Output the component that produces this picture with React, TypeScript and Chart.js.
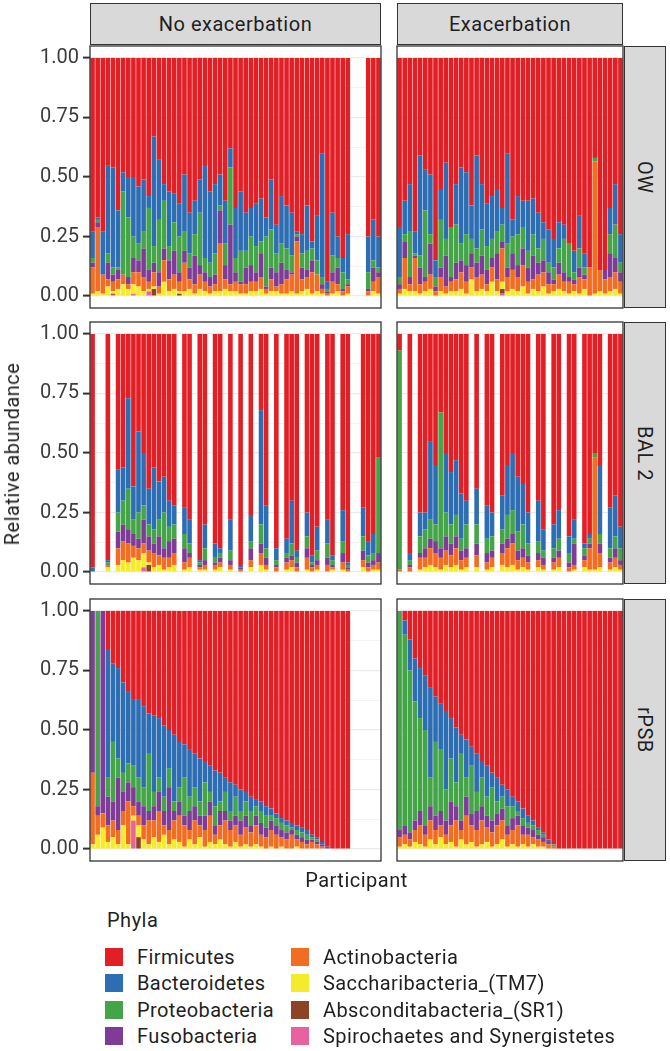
import React, { useEffect, useRef } from "react";
import { Chart, registerables } from "chart.js";
Chart.register(...registerables);

// Stacking order, bottom to top
const PHYLA = [
  "Spirochaetes and Synergistetes",
  "Absconditabacteria_(SR1)",
  "Saccharibacteria_(TM7)",
  "Actinobacteria",
  "Fusobacteria",
  "Proteobacteria",
  "Bacteroidetes",
  "Firmicutes",
];
const PHYLA_COLORS = ["#e7629e", "#8d4425", "#f4eb2a", "#f26c21", "#7e3c96", "#44a548", "#2d6db3", "#e31f26"];
const LEGEND_COL1 = ["Firmicutes", "Bacteroidetes", "Proteobacteria", "Fusobacteria"];
const LEGEND_COL2 = ["Actinobacteria", "Saccharibacteria_(TM7)", "Absconditabacteria_(SR1)", "Spirochaetes and Synergistetes"];
const COLUMN_LABELS = ["No exacerbation", "Exacerbation"];
const ROW_LABELS = ["OW", "BAL 2", "rPSB"];
const Y_TICKS = [0, 0.25, 0.5, 0.75, 1];
const Y_TICK_LABELS = ["0.00", "0.25", "0.50", "0.75", "1.00"];
const Y_GRID = [0, 0.125, 0.25, 0.375, 0.5, 0.625, 0.75, 0.875, 1];

// Each participant: cumulative tops of [Spiro, Abscond, Sacchari, Actino, Fuso, Proteo, Bactero]; Firmicutes fills to 1. null = no sample.
type Row = number[] | null;
const OW_NOEX: Row[] = [
  [0,0,0.01,0.12,0.14,0.16,0.27],[0,0,0.02,0.29,0.31,0.32,0.33],[0,0,0.01,0.09,0.09,0.09,0.27],[0,0,0.04,0.07,0.14,0.18,0.55],
  [0.005,0.01,0.02,0.06,0.09,0.12,0.54],[0,0,0.03,0.07,0.11,0.12,0.36],[0,0,0.05,0.09,0.09,0.44,0.52],[0,0,0.03,0.05,0.08,0.33,0.50],
  [0.01,0.01,0.05,0.10,0.16,0.25,0.50],[0,0,0.04,0.10,0.15,0.22,0.46],[0,0,0.02,0.08,0.20,0.27,0.49],[0.02,0.02,0.03,0.06,0.11,0.37,0.42],
  [0,0.03,0.04,0.10,0.14,0.21,0.67],[0,0,0.01,0.04,0.10,0.32,0.575],[0,0,0.06,0.15,0.20,0.40,0.47],[0,0,0.02,0.07,0.15,0.21,0.44],
  [0,0,0.03,0.09,0.19,0.31,0.43],[0,0.01,0.02,0.06,0.10,0.25,0.39],[0,0,0.02,0.14,0.19,0.27,0.51],[0,0,0.03,0.07,0.12,0.18,0.35],
  [0,0,0.01,0.05,0.17,0.26,0.40],[0,0,0.03,0.09,0.13,0.35,0.49],[0,0,0.02,0.06,0.10,0.16,0.546],[0,0,0.01,0.04,0.08,0.14,0.44],
  [0,0,0.02,0.05,0.09,0.18,0.47],[0,0,0.02,0.22,0.36,0.38,0.51],[0,0,0.03,0.07,0.13,0.22,0.40],[0,0,0.02,0.05,0.30,0.54,0.62],
  [0,0,0.02,0.06,0.10,0.16,0.37],[0,0,0.01,0.05,0.06,0.19,0.44],[0,0,0.01,0.05,0.12,0.19,0.35],[0,0,0.02,0.06,0.13,0.25,0.37],
  [0,0,0.02,0.06,0.10,0.21,0.39],[0,0,0.03,0.08,0.18,0.23,0.41],[0,0,0.01,0.03,0.04,0.25,0.33],[0,0,0.02,0.07,0.12,0.28,0.49],
  [0,0,0.02,0.04,0.10,0.18,0.30],[0,0,0.01,0.05,0.14,0.22,0.42],[0,0,0.01,0.07,0.11,0.20,0.38],[0,0,0.02,0.09,0.10,0.17,0.35],
  [0,0,0.01,0.23,0.25,0.26,0.27],[0,0,0.02,0.07,0.12,0.18,0.26],[0,0,0.03,0.08,0.11,0.19,0.38],[0,0,0.01,0.10,0.15,0.20,0.23],
  [0,0,0.02,0.09,0.09,0.15,0.34],[0,0,0.01,0.03,0.05,0.08,0.60],[0,0,0,0.01,0.02,0.03,0.06],[0,0,0.01,0.06,0.10,0.17,0.35],
  [0,0,0.02,0.05,0.12,0.16,0.25],[0,0,0,0.02,0.03,0.10,0.16],[0,0,0.01,0.04,0.05,0.07,0.26],null,null,null,
  [0,0,0,0.02,0.03,0.10,0.25],[0,0,0.02,0.06,0.12,0.15,0.32],[0,0,0.01,0.08,0.10,0.12,0.25],
];
const OW_EX: Row[] = [
  [0,0,0.01,0.03,0.05,0.08,0.29],[0,0,0.03,0.16,0.23,0.26,0.40],[0,0,0.02,0.05,0.08,0.27,0.47],[0,0,0.02,0.16,0.17,0.18,0.27],
  [0,0,0.01,0.05,0.12,0.17,0.59],[0,0,0.02,0.06,0.08,0.36,0.53],[0,0,0.03,0.09,0.22,0.26,0.51],[0,0,0,0.02,0.04,0.08,0.15],
  [0,0,0.02,0.08,0.12,0.32,0.45],[0,0,0.01,0.04,0.17,0.24,0.56],[0,0,0.02,0.06,0.08,0.29,0.29],[0,0,0.02,0.07,0.14,0.30,0.47],
  [0,0,0.03,0.10,0.15,0.22,0.54],[0,0,0.01,0.06,0.13,0.26,0.52],[0,0,0.07,0.12,0.18,0.24,0.38],[0,0,0.02,0.08,0.14,0.20,0.59],
  [0,0,0.03,0.09,0.17,0.28,0.47],[0,0,0.02,0.05,0.11,0.21,0.39],[0,0,0.06,0.12,0.16,0.24,0.42],[0,0,0.02,0.07,0.18,0.27,0.45],
  [0.01,0.03,0.06,0.20,0.23,0.30,0.37],[0,0,0.02,0.08,0.12,0.22,0.60],[0,0,0.03,0.11,0.18,0.25,0.32],[0,0,0.02,0.08,0.13,0.26,0.42],
  [0,0,0.04,0.13,0.20,0.29,0.40],[0,0,0.01,0.06,0.12,0.19,0.40],[0,0,0.03,0.07,0.17,0.26,0.41],[0,0,0.02,0.09,0.14,0.20,0.35],
  [0,0,0.04,0.10,0.15,0.24,0.31],[0,0,0.01,0.05,0.10,0.14,0.28],[0,0,0.02,0.05,0.07,0.12,0.24],[0,0,0.03,0.09,0.14,0.20,0.31],
  [0,0,0.02,0.06,0.10,0.24,0.30],[0,0,0.01,0.06,0.08,0.22,0.22],[0,0,0.02,0.05,0.07,0.10,0.19],[0,0,0.01,0.08,0.12,0.20,0.34],
  [0,0,0.03,0.07,0.09,0.12,0.18],[0,0,0,0.12,0.12,0.12,0.12],[0,0,0.01,0.565,0.565,0.58,0.58],[0,0,0.02,0.11,0.11,0.11,0.11],
  [0,0,0.01,0.07,0.11,0.11,0.11],[0,0,0.02,0.08,0.18,0.26,0.37],[0,0,0.03,0.10,0.16,0.30,0.47],[0,0,0.01,0.06,0.10,0.14,0.26],
];
const BAL2_NOEX: Row[] = [
  [0,0,0,0,0,0,0.02],null,null,[0,0,0.02,0.03,0.03,0.04,0.05],null,[0,0,0.03,0.10,0.17,0.25,0.43],[0,0,0.05,0.13,0.20,0.30,0.44],
  [0,0,0.04,0.12,0.18,0.35,0.73],[0,0,0.06,0.11,0.16,0.22,0.36],[0,0,0.05,0.10,0.14,0.25,0.59],[0.02,0.02,0.08,0.12,0.22,0.28,0.50],
  [0,0.03,0.04,0.09,0.15,0.20,0.35],[0,0,0.02,0.08,0.12,0.18,0.44],[0,0,0.03,0.07,0.15,0.22,0.38],[0,0,0.01,0.06,0.10,0.25,0.40],
  [0,0,0.02,0.06,0.13,0.19,0.30],[0,0,0.03,0.08,0.14,0.20,0.28],null,[0,0,0.01,0.04,0.10,0.16,0.27],[0,0,0.02,0.06,0.08,0.12,0.22],
  null,[0,0,0.01,0.02,0.03,0.04,0.05],[0,0,0.01,0.03,0.05,0.10,0.20],null,[0,0,0.01,0.03,0.04,0.06,0.12],[0,0,0.02,0.04,0.06,0.08,0.10],
  null,[0,0,0.01,0.03,0.05,0.09,0.22],null,[0,0,0,0.01,0.02,0.02,0.03],null,[0,0,0.02,0.05,0.10,0.13,0.24],null,
  [0,0,0.03,0.08,0.12,0.20,0.68],[0,0,0.01,0.03,0.06,0.10,0.28],null,[0,0,0,0.02,0.03,0.05,0.10],null,[0,0,0.01,0.04,0.06,0.08,0.14],
  [0,0,0.02,0.05,0.07,0.12,0.30],[0,0,0,0.02,0.04,0.06,0.09],null,[0,0,0.01,0.06,0.10,0.15,0.25],[0,0,0,0.02,0.03,0.04,0.07],
  [0,0,0.01,0.03,0.05,0.09,0.19],null,[0,0,0,0.03,0.06,0.12,0.22],[0,0,0.01,0.02,0.03,0.05,0.07],null,[0,0,0.01,0.04,0.08,0.13,0.26],
  [0,0,0,0.01,0.02,0.03,0.04],null,null,[0,0,0.02,0.05,0.09,0.15,0.27],[0,0,0,0.02,0.04,0.07,0.13],[0,0,0.01,0.03,0.05,0.08,0.16],
  [0,0,0.01,0.04,0.08,0.48,0.48],
];
const BAL2_EX: Row[] = [
  [0,0,0,0.01,0.01,0.93,0.93],null,[0,0,0,0.02,0.03,0.05,0.08],null,[0,0,0.01,0.06,0.08,0.15,0.25],[0,0,0.02,0.06,0.10,0.18,0.25],
  [0,0,0.03,0.10,0.14,0.22,0.55],[0,0,0.02,0.08,0.13,0.20,0.45],[0,0,0.01,0.06,0.10,0.67,0.67],[0,0,0.03,0.09,0.15,0.25,0.50],
  [0,0,0.02,0.07,0.12,0.20,0.42],[0,0,0.03,0.10,0.15,0.24,0.47],[0,0,0.01,0.05,0.09,0.14,0.33],[0,0,0.02,0.06,0.10,0.20,0.30],
  null,[0,0,0.02,0.07,0.12,0.20,0.35],null,[0,0,0.01,0.04,0.08,0.14,0.28],[0,0,0.02,0.06,0.09,0.15,0.25],null,
  [0,0,0.03,0.08,0.12,0.18,0.32],[0,0,0.02,0.10,0.14,0.24,0.45],[0,0,0.03,0.12,0.16,0.26,0.50],[0,0,0.01,0.05,0.09,0.17,0.40],
  [0,0,0.02,0.06,0.10,0.20,0.37],[0,0,0.01,0.04,0.07,0.12,0.25],null,[0,0,0.02,0.05,0.08,0.13,0.30],[0,0,0.01,0.03,0.06,0.09,0.18],
  null,[0,0,0.01,0.04,0.06,0.10,0.20],[0,0,0.02,0.06,0.09,0.14,0.26],null,[0,0,0,0.02,0.04,0.08,0.15],[0,0,0.01,0.03,0.12,0.14,0.22],
  null,[0,0,0.02,0.05,0.07,0.10,0.12],[0,0,0.01,0.10,0.12,0.14,0.16],[0,0,0.01,0.48,0.48,0.50,0.50],[0,0,0.02,0.08,0.12,0.16,0.45],
  null,[0,0,0.01,0.04,0.06,0.10,0.27],[0,0,0.02,0.06,0.10,0.15,0.32],[0,0,0.01,0.03,0.05,0.10,0.19],
];
const RPSB_NOEX: Row[] = [
  [0,0,0.02,0.32,1,1,1],[0,0,0.06,0.14,0.18,1,1],[0,0,0.09,0.15,1,1,1],[0,0,0.03,0.10,0.22,0.30,0.84],
  [0,0,0.05,0.12,0.20,0.45,0.78],[0,0,0.02,0.08,0.30,0.38,0.76],[0,0,0.10,0.16,0.24,0.32,0.70],[0,0,0.02,0.20,0.28,0.36,0.66],
  [0.12,0.12,0.14,0.18,0.26,0.35,0.63],[0,0.05,0.10,0.14,0.20,0.30,0.63],[0,0,0.04,0.10,0.18,0.26,0.60],[0,0,0.02,0.12,0.16,0.40,0.57],
  [0,0,0.05,0.12,0.18,0.24,0.56],[0,0,0.03,0.16,0.24,0.30,0.55],[0,0,0.06,0.10,0.16,0.22,0.52],[0,0,0.02,0.08,0.26,0.34,0.50],
  [0,0,0.04,0.12,0.16,0.20,0.48],[0,0,0.03,0.14,0.20,0.26,0.45],[0,0,0.01,0.10,0.14,0.30,0.44],[0,0,0.04,0.08,0.16,0.22,0.42],
  [0,0,0.02,0.12,0.18,0.26,0.40],[0,0,0.05,0.10,0.14,0.20,0.38],[0,0,0.01,0.08,0.14,0.28,0.37],[0,0,0.03,0.14,0.20,0.24,0.35],
  [0,0,0.02,0.06,0.10,0.18,0.33],[0,0,0.04,0.10,0.16,0.20,0.32],[0,0,0.02,0.12,0.16,0.24,0.30],[0,0,0.01,0.08,0.12,0.16,0.28],
  [0,0,0.03,0.10,0.14,0.22,0.27],[0,0,0.01,0.06,0.12,0.16,0.25],[0,0,0.02,0.09,0.14,0.20,0.24],[0,0,0.01,0.07,0.10,0.16,0.22],
  [0,0,0.02,0.10,0.14,0.18,0.21],[0,0,0.01,0.06,0.11,0.16,0.20],[0,0,0,0.05,0.09,0.14,0.18],[0,0,0.01,0.08,0.12,0.14,0.17],
  [0,0,0,0.06,0.10,0.13,0.15],[0,0,0.01,0.05,0.08,0.11,0.13],[0,0,0,0.04,0.07,0.10,0.12],[0,0,0,0.06,0.08,0.09,0.11],
  [0,0,0.01,0.04,0.06,0.08,0.10],[0,0,0,0.03,0.05,0.07,0.09],[0,0,0,0.02,0.04,0.06,0.08],[0,0,0,0.03,0.04,0.05,0.06],
  [0,0,0,0.02,0.03,0.04,0.05],[0,0,0,0.01,0.02,0.02,0.03],[0,0,0,0,0,0,0.01],[0,0,0,0,0,0,0],
  [0,0,0,0,0,0,0],[0,0,0,0,0,0,0],[0,0,0,0,0,0,0],null,null,null,null,null,null,
];
const RPSB_EX: Row[] = [
  [0,0,0.01,0.05,0.08,1,1],[0,0,0.02,0.06,0.10,0.90,0.96],[0,0,0.01,0.04,0.07,0.75,0.88],[0,0,0.03,0.08,0.12,0.62,0.80],
  [0,0,0.02,0.10,0.16,0.55,0.76],[0,0,0.01,0.06,0.10,0.50,0.73],[0,0,0.04,0.12,0.18,0.30,0.68],[0,0,0.02,0.08,0.14,0.45,0.64],
  [0,0,0.05,0.10,0.16,0.42,0.61],[0,0,0.02,0.06,0.12,0.25,0.58],[0,0,0.03,0.10,0.20,0.38,0.55],[0,0,0.01,0.12,0.18,0.28,0.51],
  [0,0,0.04,0.08,0.12,0.40,0.48],[0,0,0.02,0.14,0.22,0.30,0.46],[0,0,0.03,0.10,0.15,0.35,0.43],[0,0,0.01,0.08,0.16,0.24,0.40],
  [0,0,0.02,0.12,0.18,0.30,0.37],[0,0,0.03,0.09,0.14,0.22,0.35],[0,0,0.01,0.07,0.12,0.26,0.32],[0,0,0.02,0.10,0.15,0.20,0.30],
  [0,0,0.04,0.12,0.17,0.22,0.27],[0,0,0.01,0.06,0.10,0.18,0.25],[0,0,0.02,0.08,0.13,0.18,0.22],[0,0,0.01,0.10,0.14,0.16,0.20],
  [0,0,0.02,0.06,0.10,0.13,0.17],[0,0,0.01,0.06,0.09,0.11,0.14],[0,0,0.02,0.05,0.08,0.10,0.12],[0,0,0.01,0.04,0.06,0.08,0.09],
  [0,0,0.01,0.03,0.05,0.06,0.07],[0,0,0,0.02,0.03,0.03,0.04],[0,0,0,0.01,0.01,0.02,0.02],[0,0,0,0,0,0,0],
  [0,0,0,0,0,0,0],[0,0,0,0,0,0,0],[0,0,0,0,0,0,0],[0,0,0,0,0,0,0],[0,0,0,0,0,0,0],[0,0,0,0,0,0,0],
  [0,0,0,0,0,0,0],[0,0,0,0,0,0,0],[0,0,0,0,0,0,0],[0,0,0,0,0,0,0],[0,0,0,0,0,0,0],[0,0,0,0,0,0,0],
];
const PANEL_DATA: Row[][][] = [
  [OW_NOEX, OW_EX],
  [BAL2_NOEX, BAL2_EX],
  [RPSB_NOEX, RPSB_EX],
];

const FONT = "Roboto, 'Noto Sans', sans-serif";
const TEXT_COLOR = "#1f1f1f";
const PAD = 20;
const PANEL_H = 262;
const ROW_TOPS = [46, 322, 599];
const COL_LEFTS = [90, 397];
const COL_WIDTHS = [291, 226];

const borderPlugin = {
  id: "panelBorder",
  afterDraw(chart: any) {
    const { ctx, chartArea } = chart;
    ctx.save();
    ctx.strokeStyle = "#333333";
    ctx.lineWidth = 1.3;
    ctx.strokeRect(chartArea.left, chartArea.top, chartArea.right - chartArea.left, chartArea.bottom - chartArea.top);
    ctx.restore();
  },
};

function isMajor(v: number) {
  return Y_TICKS.some((t) => Math.abs(t - v) < 1e-6);
}

function makeConfig(rows: Row[], showY: boolean, axisWidth: number): any {
  const datasets = PHYLA.map((name, k) => ({
    label: name,
    data: rows.map((r) => (r ? [k === 0 ? 0 : r[k - 1], k < 7 ? r[k] : 1] : null)),
    backgroundColor: PHYLA_COLORS[k],
    borderWidth: 0,
    grouped: false,
    barPercentage: 0.9,
    categoryPercentage: 1,
  }));
  return {
    type: "bar",
    data: { labels: rows.map((_, i) => "P" + (i + 1)), datasets },
    options: {
      animation: false,
      responsive: false,
      maintainAspectRatio: false,
      layout: { padding: { top: PAD, bottom: PAD, right: 1, left: showY ? 0 : 1 } },
      plugins: { legend: { display: false }, tooltip: { enabled: false } },
      scales: {
        x: { type: "category", display: false, offset: true, grid: { display: false } },
        y: {
          min: -0.05,
          max: 1.05,
          afterBuildTicks: (s: any) => {
            s.ticks = Y_GRID.map((v) => ({ value: v }));
          },
          afterFit: (s: any) => {
            s.width = axisWidth;
          },
          border: { display: false },
          ticks: {
            display: showY,
            padding: 4,
            color: "#3c3c3c",
            font: { family: FONT, size: 20 },
            callback: (v: number) => {
              const idx = Y_TICKS.findIndex((t) => Math.abs(t - v) < 1e-6);
              return idx >= 0 ? Y_TICK_LABELS[idx] : "";
            },
          },
          grid: {
            drawTicks: showY,
            tickLength: 7,
            tickWidth: 2,
            tickColor: (c: any) => (c.tick && isMajor(c.tick.value) ? "#333333" : "rgba(0,0,0,0)"),
            color: "#ebebeb",
            lineWidth: (c: any) => (c.tick && isMajor(c.tick.value) ? 1.2 : 0.6),
          },
        },
      },
    },
    plugins: [borderPlugin],
  };
}

function Panel({ rows, col, row }: { rows: Row[]; col: number; row: number }) {
  const ref = useRef<HTMLCanvasElement>(null);
  const showY = col === 0;
  const left = showY ? 0 : COL_LEFTS[col] - 1;
  const width = showY ? COL_LEFTS[0] + COL_WIDTHS[0] + 1 : COL_WIDTHS[col] + 2;
  const top = ROW_TOPS[row] - PAD;
  const height = PANEL_H + 2 * PAD;
  useEffect(() => {
    const chart = new Chart(ref.current as HTMLCanvasElement, makeConfig(rows, showY, showY ? COL_LEFTS[0] : 0));
    return () => chart.destroy();
  }, []);
  return (
    <canvas
      ref={ref}
      width={width}
      height={height}
      style={{ position: "absolute", left, top, width, height, display: "block" }}
    />
  );
}

const stripBase: React.CSSProperties = {
  position: "absolute",
  boxSizing: "border-box",
  background: "#d9d9d9",
  border: "1.2px solid #333333",
  display: "flex",
  alignItems: "center",
  justifyContent: "center",
  fontFamily: FONT,
  fontSize: 20,
  color: TEXT_COLOR,
  letterSpacing: 0.5,
  whiteSpace: "nowrap",
};

export default function App() {
  const legendRowsY = [957, 983.3, 1009.6, 1036];
  return (
    <div style={{ position: "absolute", left: 0, top: 0, width: 670, height: 1051, background: "#ffffff", overflow: "hidden" }}>
      {PANEL_DATA.map((r, ri) => r.map((rows, ci) => <Panel key={ri + "-" + ci} rows={rows} col={ci} row={ri} />))}
      {COLUMN_LABELS.map((lab, ci) => (
        <div key={lab} style={{ ...stripBase, left: COL_LEFTS[ci], top: 3, width: COL_WIDTHS[ci], height: 42 }}>
          {lab}
        </div>
      ))}
      {ROW_LABELS.map((lab, ri) => (
        <div key={lab} style={{ ...stripBase, left: 624, top: ROW_TOPS[ri], width: 42, height: PANEL_H }}>
          <span style={{ writingMode: "vertical-rl" }}>{lab}</span>
        </div>
      ))}
      <div
        style={{
          position: "absolute",
          left: 12,
          top: 453.5,
          transform: "translate(-50%, -50%) rotate(-90deg)",
          fontFamily: FONT,
          fontSize: 20,
          color: TEXT_COLOR,
          letterSpacing: 0.5,
          whiteSpace: "nowrap",
        }}
      >
        Relative abundance
      </div>
      <div
        style={{
          position: "absolute",
          left: 356.5,
          top: 880,
          transform: "translate(-50%, -50%)",
          fontFamily: FONT,
          fontSize: 20,
          color: TEXT_COLOR,
          letterSpacing: 0.5,
          whiteSpace: "nowrap",
        }}
      >
        Participant
      </div>
      <div
        style={{
          position: "absolute",
          left: 107,
          top: 920,
          transform: "translateY(-50%)",
          fontFamily: FONT,
          fontSize: 20,
          color: TEXT_COLOR,
          letterSpacing: 0.5,
        }}
      >
        Phyla
      </div>
      {[LEGEND_COL1, LEGEND_COL2].map((col, ci) =>
        col.map((name, i) => {
          const k = PHYLA.indexOf(name);
          const keyX = ci === 0 ? 105 : 291;
          const textX = ci === 0 ? 137 : 323;
          return (
            <React.Fragment key={name}>
              <div
                style={{
                  position: "absolute",
                  left: keyX,
                  top: legendRowsY[i] - 9,
                  width: 18,
                  height: 18,
                  background: PHYLA_COLORS[k],
                }}
              />
              <div
                style={{
                  position: "absolute",
                  left: textX,
                  top: legendRowsY[i],
                  transform: "translateY(-50%)",
                  fontFamily: FONT,
                  fontSize: 20,
                  color: TEXT_COLOR,
                  letterSpacing: 0.4,
                  whiteSpace: "nowrap",
                }}
              >
                {name}
              </div>
            </React.Fragment>
          );
        })
      )}
    </div>
  );
}
